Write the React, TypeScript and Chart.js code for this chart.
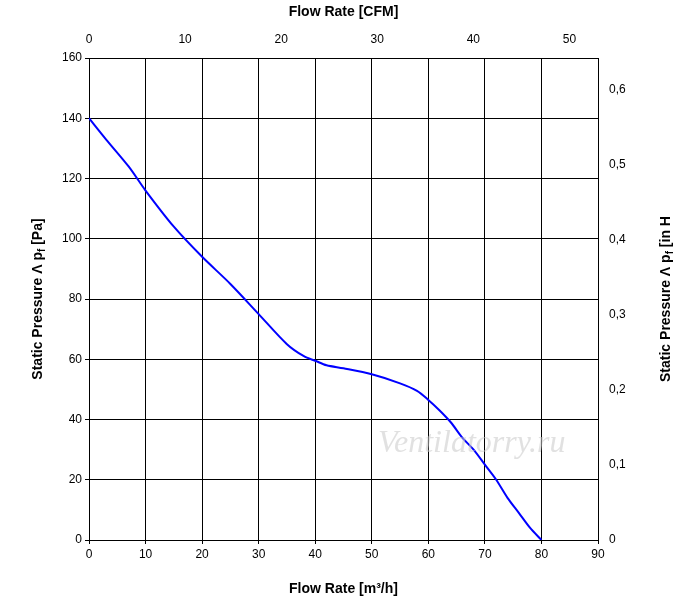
import React, { useEffect, useRef } from "react";
import { Chart, registerables } from "chart.js";
Chart.register(...registerables);

const flow = [0, 3, 7, 10, 15, 20, 25, 30, 35, 38, 40, 42, 45, 50, 55, 58, 60, 62, 64, 66, 68, 70, 72, 74, 76, 78, 80];
const pressure = [140, 133, 124, 116, 104, 94, 85, 75, 65, 61, 59.5, 58, 57, 55, 52, 49.5, 46.5, 43, 39, 34, 30, 25, 20, 14, 9, 4, 0];
const cfmTicks = [0, 10, 20, 30, 40, 50];
const inh2oTicks = [0, 0.1, 0.2, 0.3, 0.4, 0.5, 0.6];
const M3H_PER_CFM = 1.699;
const PA_PER_INH2O = 249.09;

export default function App() {
  const ref = useRef<HTMLCanvasElement>(null);
  useEffect(() => {
    document.body.style.margin = "0";
    const font = { family: "Liberation Sans, Arial", size: 12 };
    const tfont = { family: "Liberation Sans, Arial", size: 14, weight: "bold" as const };
    const fit = (v: number, horiz: boolean) => (s: any) => { if (horiz) s.height = v; else s.width = v; };
    const overlay = {
      id: "overlay",
      afterDraw(c: any) {
        const ctx = c.ctx;
        const a = c.chartArea;
        const cy = (a.top + a.bottom) / 2;
        ctx.save();
        ctx.font = "italic 32px 'Liberation Serif', serif";
        ctx.fillStyle = "rgba(200,200,200,0.55)";
        ctx.fillText("Ventilatorry.ru", 378, 452);
        ctx.fillStyle = "#000";
        ctx.textAlign = "center";
        ctx.textBaseline = "middle";
        const drawTitle = (x: number, pre: string, sub: string, post: string, subIsH2O = false) => {
          ctx.save();
          ctx.translate(x, cy);
          ctx.rotate(-Math.PI / 2);
          const big = "bold 14px 'Liberation Sans', Arial";
          const small = "bold 10px 'Liberation Sans', Arial";
          ctx.font = big; const w1 = ctx.measureText(pre).width;
          ctx.font = small; const w2 = ctx.measureText(sub).width;
          ctx.font = big; const w3 = ctx.measureText(post).width;
          let px = -(w1 + w2 + w3) / 2;
          ctx.textAlign = "left";
          ctx.font = big; ctx.fillText(pre, px, 0); px += w1;
          ctx.font = small; ctx.fillText(sub, px, 4); px += w2;
          ctx.font = big; ctx.fillText(post, px, 0);
          ctx.restore();
        };
        drawTitle(38, "Static Pressure Λ p", "f", " [Pa]");
        drawTitle(666, "Static Pressure Λ p", "f", " [in H", true);
        ctx.restore();
        // append "2O]" for right title
        ctx.save();
        ctx.translate(666, cy);
        ctx.rotate(-Math.PI / 2);
        ctx.font = "bold 14px 'Liberation Sans', Arial";
        const pre = "Static Pressure Λ p"; const post = " [in H";
        const w1 = ctx.measureText(pre).width, w3 = ctx.measureText(post).width;
        ctx.font = "bold 10px 'Liberation Sans', Arial";
        const wf = ctx.measureText("f").width, w2 = ctx.measureText("2").width;
        ctx.font = "bold 14px 'Liberation Sans', Arial";
        const wo = ctx.measureText("O]").width;
        ctx.restore();
        void w1; void w3; void wf; void w2; void wo;
      },
    };
    const chart = new Chart(ref.current!, {
      type: "scatter",
      data: {
        datasets: [{
          data: flow.map((x, i) => ({ x, y: pressure[i] })),
          showLine: true, borderColor: "#0000ff", borderWidth: 2, pointRadius: 0, tension: 0.3,
          xAxisID: "x", yAxisID: "y",
        }],
      },
      options: {
        animation: false, responsive: false,
        layout: { padding: 0 },
        plugins: { legend: { display: false }, tooltip: { enabled: false } },
        scales: {
          x: {
            type: "linear", position: "bottom", min: 0, max: 90,
            ticks: { stepSize: 10, color: "#000", font },
            grid: { color: "#000", tickLength: 4 }, border: { color: "#000" },
            title: { display: true, text: "Flow Rate [m³/h]", color: "#000", font: tfont },
            afterFit: fit(62, true),
          },
          x2: {
            type: "linear", position: "top", min: 0, max: 90 / M3H_PER_CFM,
            ticks: { color: "#000", font },
            afterBuildTicks: (s: any) => { s.ticks = cfmTicks.map((v) => ({ value: v })); },
            grid: { display: false }, border: { color: "#000" },
            title: { display: true, text: "Flow Rate [CFM]", color: "#000", font: tfont },
            afterFit: fit(58, true),
          },
          y: {
            type: "linear", position: "left", min: 0, max: 160,
            ticks: { stepSize: 20, color: "#000", font },
            grid: { color: "#000", tickLength: 4 }, border: { color: "#000" },
            afterFit: fit(89, false),
          },
          y2: {
            type: "linear", position: "right", min: 0, max: 160 / PA_PER_INH2O,
            afterBuildTicks: (s: any) => { s.ticks = inh2oTicks.map((v) => ({ value: v })); },
            ticks: { color: "#000", font, callback: (v: any) => (v === 0 ? "0" : Number(v).toFixed(1).replace(".", ",")) },
            grid: { display: false }, border: { color: "#000" },
            afterFit: fit(102, false),
          },
        },
      },
      plugins: [overlay],
    });
    return () => chart.destroy();
  }, []);
  return <canvas ref={ref} width={700} height={602} style={{ display: "block", background: "#fff" }} />;
}
